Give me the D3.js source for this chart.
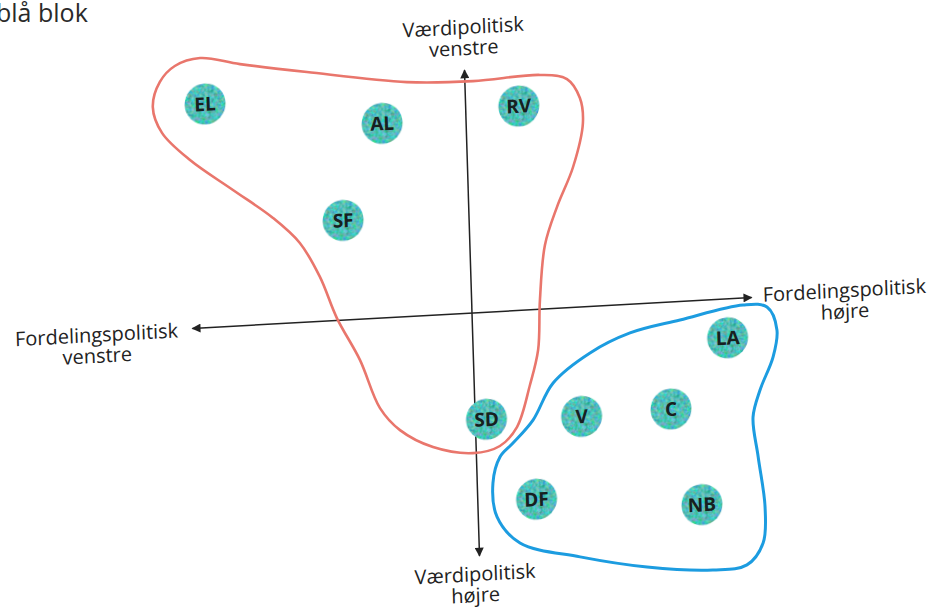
<!DOCTYPE html>
<html>
<head>
<meta charset="utf-8">
<script src="https://cdn.jsdelivr.net/npm/d3@7"></script>
<style>
  body { margin: 0; background: #fff; }
  svg { display: block; }
</style>
</head>
<body>
<div id="chart"></div>
<script>
// Party positions: fordelingspolitisk (x, -10 venstre .. 10 højre),
// værdipolitisk (y, -10 venstre .. 10 højre)
const parties = ["EL", "AL", "RV", "SF", "SD", "V", "C", "LA", "DF", "NB"];
const fordeling = [-9.3, -3.0, 1.9, -4.5, 0.4, 3.8, 7.0, 9.1, 2.1, 8.0];
const vaerdi = [-9.2, -8.0, -8.4, -4.1, 4.4, 4.5, 4.4, 1.6, 7.8, 8.4];

// Outline of the red bloc (traced clockwise)
const redX = [-9.43, -8.01, -5.63, -2.07, 0.29, 2.69, 3.65, 4.09, 4.17, 3.77, 3.15, 2.68, 2.44, 2.32,
  1.99, 1.48, 0.85, -0.12, -1.54, -2.70, -3.39, -4.05, -4.83, -5.39, -6.07, -7.00, -8.40, -9.90,
  -10.87, -11.17, -10.89, -10.34];
const redY = [-11.10, -10.76, -10.28, -9.64, -9.53, -9.63, -9.40, -8.59, -7.56, -5.77, -4.16, -2.63,
  -0.38, 1.67, 3.09, 4.79, 5.53, 5.76, 5.42, 4.65, 3.70, 1.68, -0.10, -1.83, -3.27, -4.36, -5.60,
  -6.93, -8.11, -9.19, -10.21, -10.83];

// Outline of the blue bloc
const blueX = [9.69, 10.54, 10.87, 10.70, 10.20, 9.92, 10.06, 10.25, 10.14, 9.54, 8.32, 5.97, 3.59,
  1.46, 0.67, 0.56, 0.84, 1.32, 2.06, 2.82, 4.17, 5.62, 7.42];
const blueY = [0.29, 0.43, 1.39, 2.50, 3.82, 4.92, 6.57, 8.64, 10.12, 10.98, 11.11, 10.84, 10.27,
  9.56, 8.44, 7.04, 5.98, 5.44, 4.54, 3.06, 1.91, 1.18, 0.76];

const axisTop = ["Værdipolitisk", "venstre"];
const axisBottom = ["Værdipolitisk", "højre"];
const axisLeft = ["Fordelingspolitisk", "venstre"];
const axisRight = ["Fordelingspolitisk", "højre"];
const title = "blå blok";

const width = 935;
const height = 607;

const svg = d3.select("#chart")
  .append("svg")
  .attr("width", width)
  .attr("height", height);

const defs = svg.append("defs");

// arrow head for the axes
defs.append("marker")
  .attr("id", "arrow")
  .attr("viewBox", "0 0 10 10")
  .attr("refX", 9)
  .attr("refY", 5)
  .attr("markerWidth", 13)
  .attr("markerHeight", 9)
  .attr("markerUnits", "userSpaceOnUse")
  .attr("orient", "auto-start-reverse")
  .append("path")
  .attr("d", "M0,0 L10,5 L0,10 Z")
  .attr("fill", "#222");

// mottled teal texture for the party dots
const mottle = defs.append("filter")
  .attr("id", "mottle")
  .attr("color-interpolation-filters", "sRGB")
  .attr("x", "-10%").attr("y", "-10%")
  .attr("width", "120%").attr("height", "120%");
mottle.append("feTurbulence")
  .attr("type", "fractalNoise")
  .attr("baseFrequency", 0.3)
  .attr("numOctaves", 2)
  .attr("seed", 7)
  .attr("result", "noise");
mottle.append("feColorMatrix")
  .attr("in", "noise")
  .attr("type", "matrix")
  .attr("values", "0.7 0 0 0 -0.03  0 0.45 0 0 0.52  0 0 0.6 0 0.42  0 0 0 0 1")
  .attr("result", "spots");
mottle.append("feComposite")
  .attr("in", "spots")
  .attr("in2", "SourceGraphic")
  .attr("operator", "in");

// title, cut at the page edge like the scan
svg.append("text")
  .attr("x", -4)
  .attr("y", 22)
  .style("font-family", "'Open Sans', sans-serif")
  .style("font-size", "25px")
  .style("fill", "#2a2a2a")
  .text(title);

// the scan is a little skewed, so the plot lives in a tilted frame
const g = svg.append("g")
  .attr("transform", "translate(472,313) matrix(0.9985,-0.0554,0.0309,0.9995,0,0)");

const x = d3.scaleLinear().domain([-10, 10]).range([-280, 280]);
const y = d3.scaleLinear().domain([-10, 10]).range([-243, 243]);

// axes
g.append("line")
  .attr("x1", x(-10)).attr("y1", y(0))
  .attr("x2", x(10)).attr("y2", y(0))
  .attr("stroke", "#222")
  .attr("stroke-width", 1.5)
  .attr("marker-start", "url(#arrow)")
  .attr("marker-end", "url(#arrow)");

g.append("line")
  .attr("x1", x(0)).attr("y1", y(-10))
  .attr("x2", x(0)).attr("y2", y(10))
  .attr("stroke", "#222")
  .attr("stroke-width", 1.5)
  .attr("marker-start", "url(#arrow)")
  .attr("marker-end", "url(#arrow)");

// axis labels
function addLabel(lines, cx, cy, anchor) {
  const t = g.append("text")
    .attr("text-anchor", anchor)
    .style("font-family", "'Open Sans', sans-serif")
    .style("font-size", "20px")
    .style("fill", "#222");
  lines.forEach((line, i) => {
    t.append("tspan")
      .attr("x", cx)
      .attr("y", cy + i * 21)
      .text(line);
  });
}
addLabel(axisTop, x(0), y(-10) - 36, "middle");
addLabel(axisBottom, x(0) - 5, y(10) + 25, "middle");
addLabel(axisLeft, x(-10) - 96, y(0) + 8, "middle");
addLabel(axisRight, x(10) + 93, y(0) + 5, "middle");

// bloc outlines
const blob = d3.line()
  .x(d => x(d[0]))
  .y(d => y(d[1]))
  .curve(d3.curveCatmullRomClosed.alpha(0.5));

g.append("path")
  .attr("d", blob(d3.zip(redX, redY)))
  .attr("fill", "none")
  .attr("stroke", "#e9766c")
  .attr("stroke-width", 2.6);

g.append("path")
  .attr("d", blob(d3.zip(blueX, blueY)))
  .attr("fill", "none")
  .attr("stroke", "#1c9ce0")
  .attr("stroke-width", 3);

// party dots
const dots = g.selectAll(".party")
  .data(parties.map((p, i) => ({ name: p, fx: fordeling[i], vy: vaerdi[i] })))
  .enter()
  .append("g")
  .attr("class", "party")
  .attr("transform", d => "translate(" + x(d.fx) + "," + y(d.vy) + ")");

dots.append("circle")
  .attr("r", 20.5)
  .attr("fill", "#3ea99f")
  .attr("filter", "url(#mottle)");

dots.append("text")
  .attr("text-anchor", "middle")
  .attr("dy", "0.36em")
  .style("font-family", "'Open Sans', sans-serif")
  .style("font-weight", "bold")
  .style("font-size", "19px")
  .style("fill", "#172020")
  .text(d => d.name);
</script>
</body>
</html>
